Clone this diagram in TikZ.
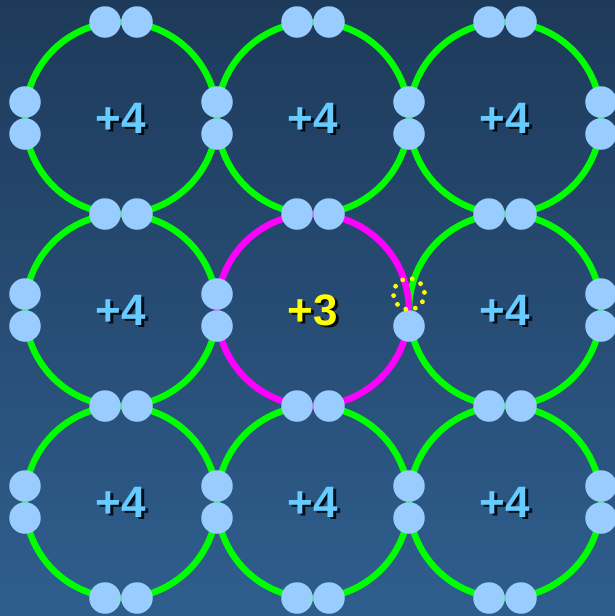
\documentclass[tikz,border=0pt]{standalone}
\usepackage{fontspec}
\setmainfont{Liberation Sans}
\definecolor{bgtop}{HTML}{1E3A5A}
\definecolor{bgbot}{HTML}{2F5E8D}
\definecolor{elec}{HTML}{99CCFF}
\definecolor{bondgreen}{HTML}{00FF00}
\definecolor{bondmag}{HTML}{FF00FF}
\definecolor{lblblue}{HTML}{66CCFF}
\definecolor{holeyellow}{HTML}{FFFF00}
\tikzset{
  bond/.style={draw=bondgreen,line width=6.5pt},
  bondc/.style={draw=bondmag,line width=6.5pt},
  electron/.style={circle,fill=elec,draw=none,minimum size=31.5pt,inner sep=0pt},
  lbl/.style={inner sep=0pt,font=\bfseries\fontsize{44}{44}\selectfont},
  lblshadow/.style={lbl,text=black,opacity=0.85},
}
\begin{document}
\begin{tikzpicture}[x=1pt,y=-1pt]
\useasboundingbox (0,0) rectangle (615,616);
\shade[top color=bgtop,bottom color=bgbot] (0,0) rectangle (615,616);
% bond circles
\foreach \i in {0,1,2}{
  \foreach \j in {0,1,2}{
    \pgfmathtruncatemacro{\c}{\i*3+\j}
    \ifnum\c=4\relax\else
      \draw[bond] ({121+192*\i},{118+192*\j}) circle (96);
    \fi
  }
}
\draw[bondc] (313,310) circle (96);
% horizontal-tangent electron pairs
\foreach \i in {0,1,2}{
  \foreach \y [count=\k] in {22,214,406,598}{
    \node[electron] (eh-\i-\k-a) at ({121+192*\i-16},\y) {};
    \node[electron] (eh-\i-\k-b) at ({121+192*\i+16},\y) {};
  }
}
% vertical-tangent electron pairs
\foreach \j in {0,1,2}{
  \foreach \x [count=\k] in {25,217,409,601}{
    \pgfmathtruncatemacro{\hole}{(\j==1 && \k==3) ? 1 : 0}
    \ifnum\hole=0\relax
      \node[electron] (ev-\j-\k-a) at (\x,{118+192*\j-16}) {};
    \fi
    \node[electron] (ev-\j-\k-b) at (\x,{118+192*\j+16}) {};
  }
}
% hole
\coordinate (hole) at (409,294);
\foreach \a in {102,66,30,-6,-42,-78,-114,-150,174,138}{
  \fill[holeyellow] (hole) ++(\a:15.5) circle (2.4);
}
% labels
\foreach \i in {0,1,2}{
  \foreach \j in {0,1,2}{
    \pgfmathtruncatemacro{\c}{\i*3+\j}
    \ifnum\c=4\relax\else
      \node[lblshadow] (s-\i-\j) at ({121+192*\i+2.5},{118+192*\j+2.5}) {+4};
      \node[lbl,text=lblblue] (l-\i-\j) at ({121+192*\i},{118+192*\j}) {+4};
    \fi
  }
}
\node[lblshadow] (s-c) at (315.5,312.5) {+3};
\node[lbl,text=holeyellow] (l-c) at (313,310) {+3};
\end{tikzpicture}
\end{document}
